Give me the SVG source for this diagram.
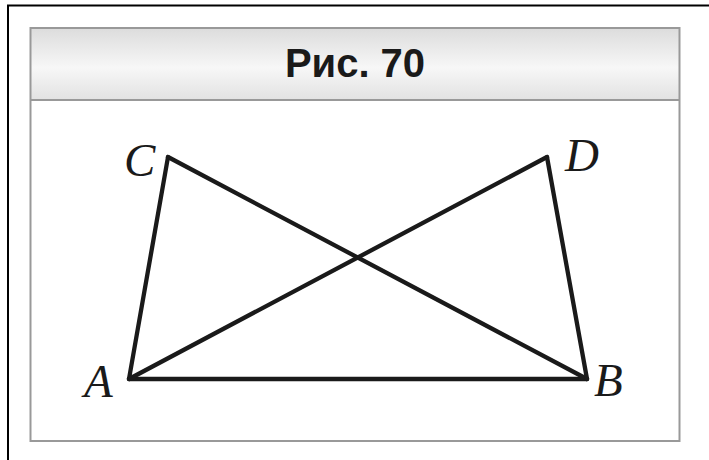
<svg xmlns="http://www.w3.org/2000/svg" width="709" height="460" viewBox="0 0 709 460">
<defs>
<linearGradient id="hdr" x1="0" y1="0" x2="0" y2="1">
<stop offset="0" stop-color="#dcdcdc"/>
<stop offset="0.55" stop-color="#f7f7f7"/>
<stop offset="1" stop-color="#e2e2e2"/>
</linearGradient>
</defs>
<style>
.frame{fill:none;stroke:#999;stroke-width:2}
.seg{stroke:#1a1a1a;stroke-width:4.3;stroke-linecap:round;stroke-linejoin:round;fill:none}
.lbl{font-family:"Liberation Serif","Times New Roman",serif;font-style:italic;font-size:47px;fill:#1a1a1a}
.title{font-family:"Liberation Sans",Arial,sans-serif;font-weight:bold;font-size:40px;fill:#1a1a1a}
</style>
<rect width="709" height="460" fill="#fff"/>
<path d="M8,460 V5.5 H709" fill="none" stroke="#000" stroke-width="2"/>
<g id="panel">
<rect x="30.5" y="28" width="649" height="72" fill="url(#hdr)"/>
<rect class="frame" x="30.5" y="28" width="649" height="413"/>
<line class="frame" x1="30.5" y1="100" x2="679.5" y2="100"/>
<text class="title" x="355" y="77" text-anchor="middle">Рис. 70</text>
</g>
<g id="connectors">
<line class="seg" x1="129" y1="379" x2="587" y2="379"/>
<line class="seg" x1="129" y1="379" x2="168" y2="157"/>
<line class="seg" x1="168" y1="157" x2="587" y2="379"/>
<line class="seg" x1="129" y1="379" x2="547" y2="157"/>
<line class="seg" x1="547" y1="157" x2="587" y2="379"/>
</g>
<g id="node-A"><text class="lbl" x="84" y="397">A</text></g>
<g id="node-B"><text class="lbl" x="594" y="396">B</text></g>
<g id="node-C"><text class="lbl" x="124" y="176">C</text></g>
<g id="node-D"><text class="lbl" x="565" y="171">D</text></g>
</svg>
